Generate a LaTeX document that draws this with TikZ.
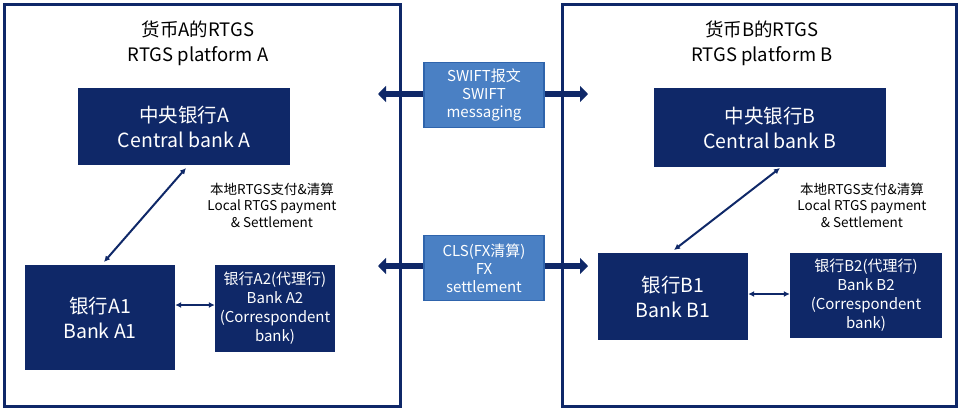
\documentclass[tikz,border=0pt]{standalone}
\usepackage{fontspec}
\setmainfont{Noto Sans CJK SC}
\usetikzlibrary{arrows.meta}
\definecolor{navy}{HTML}{0F2868}
\definecolor{lblue}{HTML}{4A80C4}
\definecolor{lbord}{HTML}{2F64AC}
\tikzset{
  bank/.style={fill=navy,text=white,align=center,inner sep=0pt},
  link/.style={fill=lblue,draw=lbord,line width=1.2pt,text=white,align=center,inner sep=0pt,
    minimum width=120pt,minimum height=65pt,font=\fontsize{15}{18}\selectfont},
  panel/.style={draw=navy,line width=3pt},
  thin/.style={draw=navy,line width=2pt,{Latex[length=6pt,width=6pt]}-{Latex[length=6pt,width=6pt]}},
  thick/.style={draw=navy,line width=6pt,{Triangle[length=8pt,width=16pt]}-{Triangle[length=8pt,width=16pt]}}
}
\begin{document}
\begin{tikzpicture}[x=1pt,y=-1pt]
  \useasboundingbox (0,0) rectangle (960,410);
  % panels
  \draw[panel] (4,4) rectangle (400,406);
  \draw[panel] (562,4) rectangle (956,406);
  \node (ta) [align=center,font=\fontsize{18.5}{25}\selectfont] at (198,43) {货币A的RTGS\\RTGS platform A};
  \node (tb) [align=center,font=\fontsize{18.5}{25}\selectfont] at (762,43) {货币B的RTGS\\RTGS platform B};

  % platform A
  \node (cba) [bank,minimum width=212pt,minimum height=77pt,font=\fontsize{19.5}{25}\selectfont] at (184,126.5) {中央银行A\\Central bank A};
  \node (ba1) [bank,minimum width=150pt,minimum height=105pt,font=\fontsize{19.5}{25}\selectfont] at (100,317.5) {银行A1\\Bank A1};
  \node (ba2) [bank,minimum width=120pt,minimum height=87pt,font=\fontsize{15}{19}\selectfont] at (275,308.5) {银行A2(代理行)\\Bank A2\\(Correspondent\\bank)};
  \node (la) [align=center,font=\fontsize{13.5}{16.5}\selectfont] at (272,205) {本地RTGS支付\&清算\\Local RTGS payment\\\& Settlement};
  \coordinate (cbao) at (186,168);
  \coordinate (ba1i) at (104,262);
  \draw[thin] (cbao) -- (ba1i);
  \draw[thin] (ba1.east |- 0,305) -- (ba2.west |- 0,305);

  % platform B
  \node (cbb) [bank,minimum width=232pt,minimum height=79pt,font=\fontsize{19.5}{25}\selectfont] at (770,127.5) {中央银行B\\Central bank B};
  \node (bb1) [bank,minimum width=150pt,minimum height=87pt,font=\fontsize{19.5}{25}\selectfont] at (673,296.5) {银行B1\\Bank B1};
  \node (bb2) [bank,minimum width=152pt,minimum height=85pt,font=\fontsize{15}{19}\selectfont] at (866,295.5) {银行B2(代理行)\\Bank B2\\(Correspondent\\bank)};
  \node (lb) [align=center,font=\fontsize{13.5}{16.5}\selectfont] at (862,205) {本地RTGS支付\&清算\\Local RTGS payment\\\& Settlement};
  \coordinate (cbbo) at (780,168);
  \coordinate (bb1i) at (674,250);
  \draw[thin] (cbbo) -- (bb1i);
  \draw[thin] (bb1.east |- 0,294) -- (bb2.west |- 0,294);

  % cross-border links
  \coordinate (swl) at (378,94);
  \coordinate (swr) at (588,94);
  \coordinate (cll) at (378,266);
  \coordinate (clr) at (588,266);
  \draw[thick] (swl) -- (swr);
  \draw[thick] (cll) -- (clr);
  \node (swift) [link] at (484,95) {SWIFT报文\\SWIFT\\messaging};
  \node (cls) [link] at (484,268) {CLS(FX清算)\\FX\\settlement};
\end{tikzpicture}
\end{document}
